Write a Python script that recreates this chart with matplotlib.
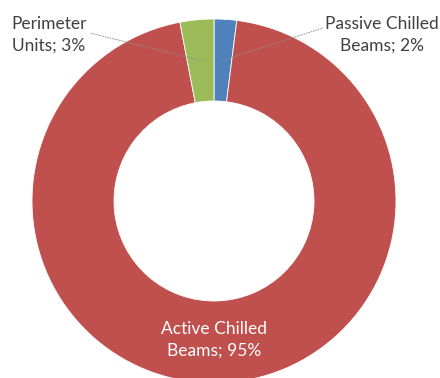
import matplotlib.pyplot as plt
import numpy as np

plt.rcParams["font.family"] = ["Lato", "DejaVu Sans"]

labels = ["Passive Chilled\nBeams", "Active Chilled\nBeams", "Perimeter\nUnits"]
shares = [2, 95, 3]
colors = ["#4F81BD", "#C0504D", "#9BBB59"]

W, H = 440, 378
cx, cy = 214, H - 201
r_out, r_in = 182, 100

fig = plt.figure(figsize=(W / 100, H / 100), dpi=100)
ax = fig.add_axes([0, 0, 1, 1])

wedges, _ = ax.pie(
    shares,
    colors=colors,
    startangle=90,
    counterclock=False,
    center=(cx, cy),
    radius=r_out,
    wedgeprops=dict(width=r_out - r_in, edgecolor="white", linewidth=0.6),
    frame=True,
)
ax.set_xlim(0, W)
ax.set_ylim(0, H)
ax.set_aspect("equal")
ax.axis("off")

# mid-ring anchor of each slice
total = sum(shares)
starts = 90 - 360 * np.cumsum([0] + shares[:-1]) / total
mids = starts - 180 * np.array(shares) / total
r_mid = (r_out + r_in) / 2
anchor = [(cx + r_mid * np.cos(np.radians(a)), cy + r_mid * np.sin(np.radians(a))) for a in mids]

text_kw = dict(ha="center", va="center", fontsize=12.5, linespacing=1.4)
leader = dict(color="#8c8c8c", lw=0.7, ls=(0, (1.5, 1)))

# Passive Chilled Beams
ax.text(382, H - 35, f"{labels[0]}; {shares[0]}%", color="#404040", **text_kw)
ax.plot([anchor[0][0], 323], [anchor[0][1], H - 28], **leader)

# Active Chilled Beams
ax.text(214, H - 340, f"{labels[1]}; {shares[1]}%", color="white", **text_kw)

# Perimeter Units
ax.text(49, H - 35, f"{labels[2]}; {shares[2]}%", color="#404040", **text_kw)
ax.plot([anchor[2][0], 90], [anchor[2][1], H - 33], **leader)

fig.savefig("out.png", dpi=100)
